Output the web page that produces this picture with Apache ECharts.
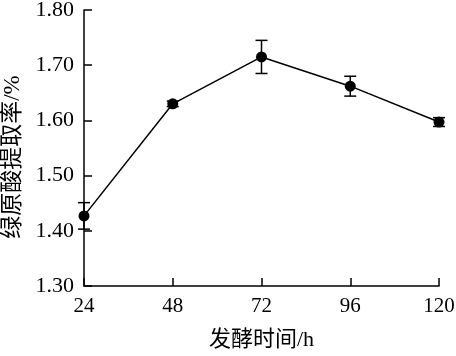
<!DOCTYPE html>
<html><head><meta charset="utf-8">
<script src="https://cdn.jsdelivr.net/npm/echarts@6/dist/echarts.min.js"></script>
<style>html,body{margin:0;padding:0;background:#fff}#c{width:456px;height:356px}</style>
</head><body><div id="c"></div>
<script>
var hours = [24, 48, 72, 96, 120];
var rates = [1.427, 1.630, 1.715, 1.662, 1.597];
var errors = [0.024, 0.005, 0.030, 0.018, 0.008];
var yTicks = [1.30, 1.40, 1.50, 1.60, 1.70, 1.80];

var FONT = '"Liberation Serif", "Noto Sans CJK SC", serif';
var chart = echarts.init(document.getElementById('c'));
var lineData = hours.map(function (h, i) { return [h, rates[i]]; });
var errData = hours.map(function (h, i) { return [h, rates[i] - errors[i], rates[i] + errors[i]]; });

chart.setOption({
  animation: false,
  grid: { left: 84, right: 17, top: 10, bottom: 70, containLabel: false, outerBoundsMode: 'none' },
  xAxis: {
    type: 'value', min: 24, max: 120, interval: 24,
    name: '发酵时间/h', nameLocation: 'middle', nameGap: 43,
    nameTextStyle: { fontFamily: FONT, fontSize: 22, color: '#000' },
    axisLine: { lineStyle: { color: '#000', width: 1.5 } },
    axisTick: { inside: true, length: 8, lineStyle: { color: '#000', width: 1.5 } },
    axisLabel: { fontFamily: FONT, fontSize: 21, color: '#000', margin: 10 },
    splitLine: { show: false }
  },
  yAxis: {
    type: 'value', min: 1.30, max: 1.80, interval: 0.10,
    name: '绿原酸提取率/%', nameLocation: 'middle', nameGap: 46, nameRotate: 90,
    nameTextStyle: { fontFamily: FONT, fontSize: 23, color: '#000', padding: [0, 18, 0, 0] },
    axisLine: { show: true, lineStyle: { color: '#000', width: 1.5 } },
    axisTick: { show: true, inside: true, length: 8, lineStyle: { color: '#000', width: 1.5 } },
    axisLabel: { fontFamily: FONT, fontSize: 22, color: '#000', margin: 10,
      formatter: function (v) { return v.toFixed(2); } },
    splitLine: { show: false }
  },
  series: [
    {
      type: 'custom',
      data: errData,
      z: 3,
      renderItem: function (params, api) {
        var x = api.value(0);
        var lo = api.coord([x, api.value(1)]);
        var hi = api.coord([x, api.value(2)]);
        var w = 6;
        var st = { stroke: '#000', lineWidth: 1.5 };
        return {
          type: 'group',
          children: [
            { type: 'line', shape: { x1: lo[0], y1: lo[1], x2: hi[0], y2: hi[1] }, style: st },
            { type: 'line', shape: { x1: lo[0] - w, y1: lo[1], x2: lo[0] + w, y2: lo[1] }, style: st },
            { type: 'line', shape: { x1: hi[0] - w, y1: hi[1], x2: hi[0] + w, y2: hi[1] }, style: st }
          ]
        };
      }
    },
    {
      type: 'line',
      data: lineData,
      z: 4,
      symbol: 'circle', symbolSize: 11,
      itemStyle: { color: '#000' },
      lineStyle: { color: '#000', width: 1.5 }
    }
  ]
});
</script></body></html>
